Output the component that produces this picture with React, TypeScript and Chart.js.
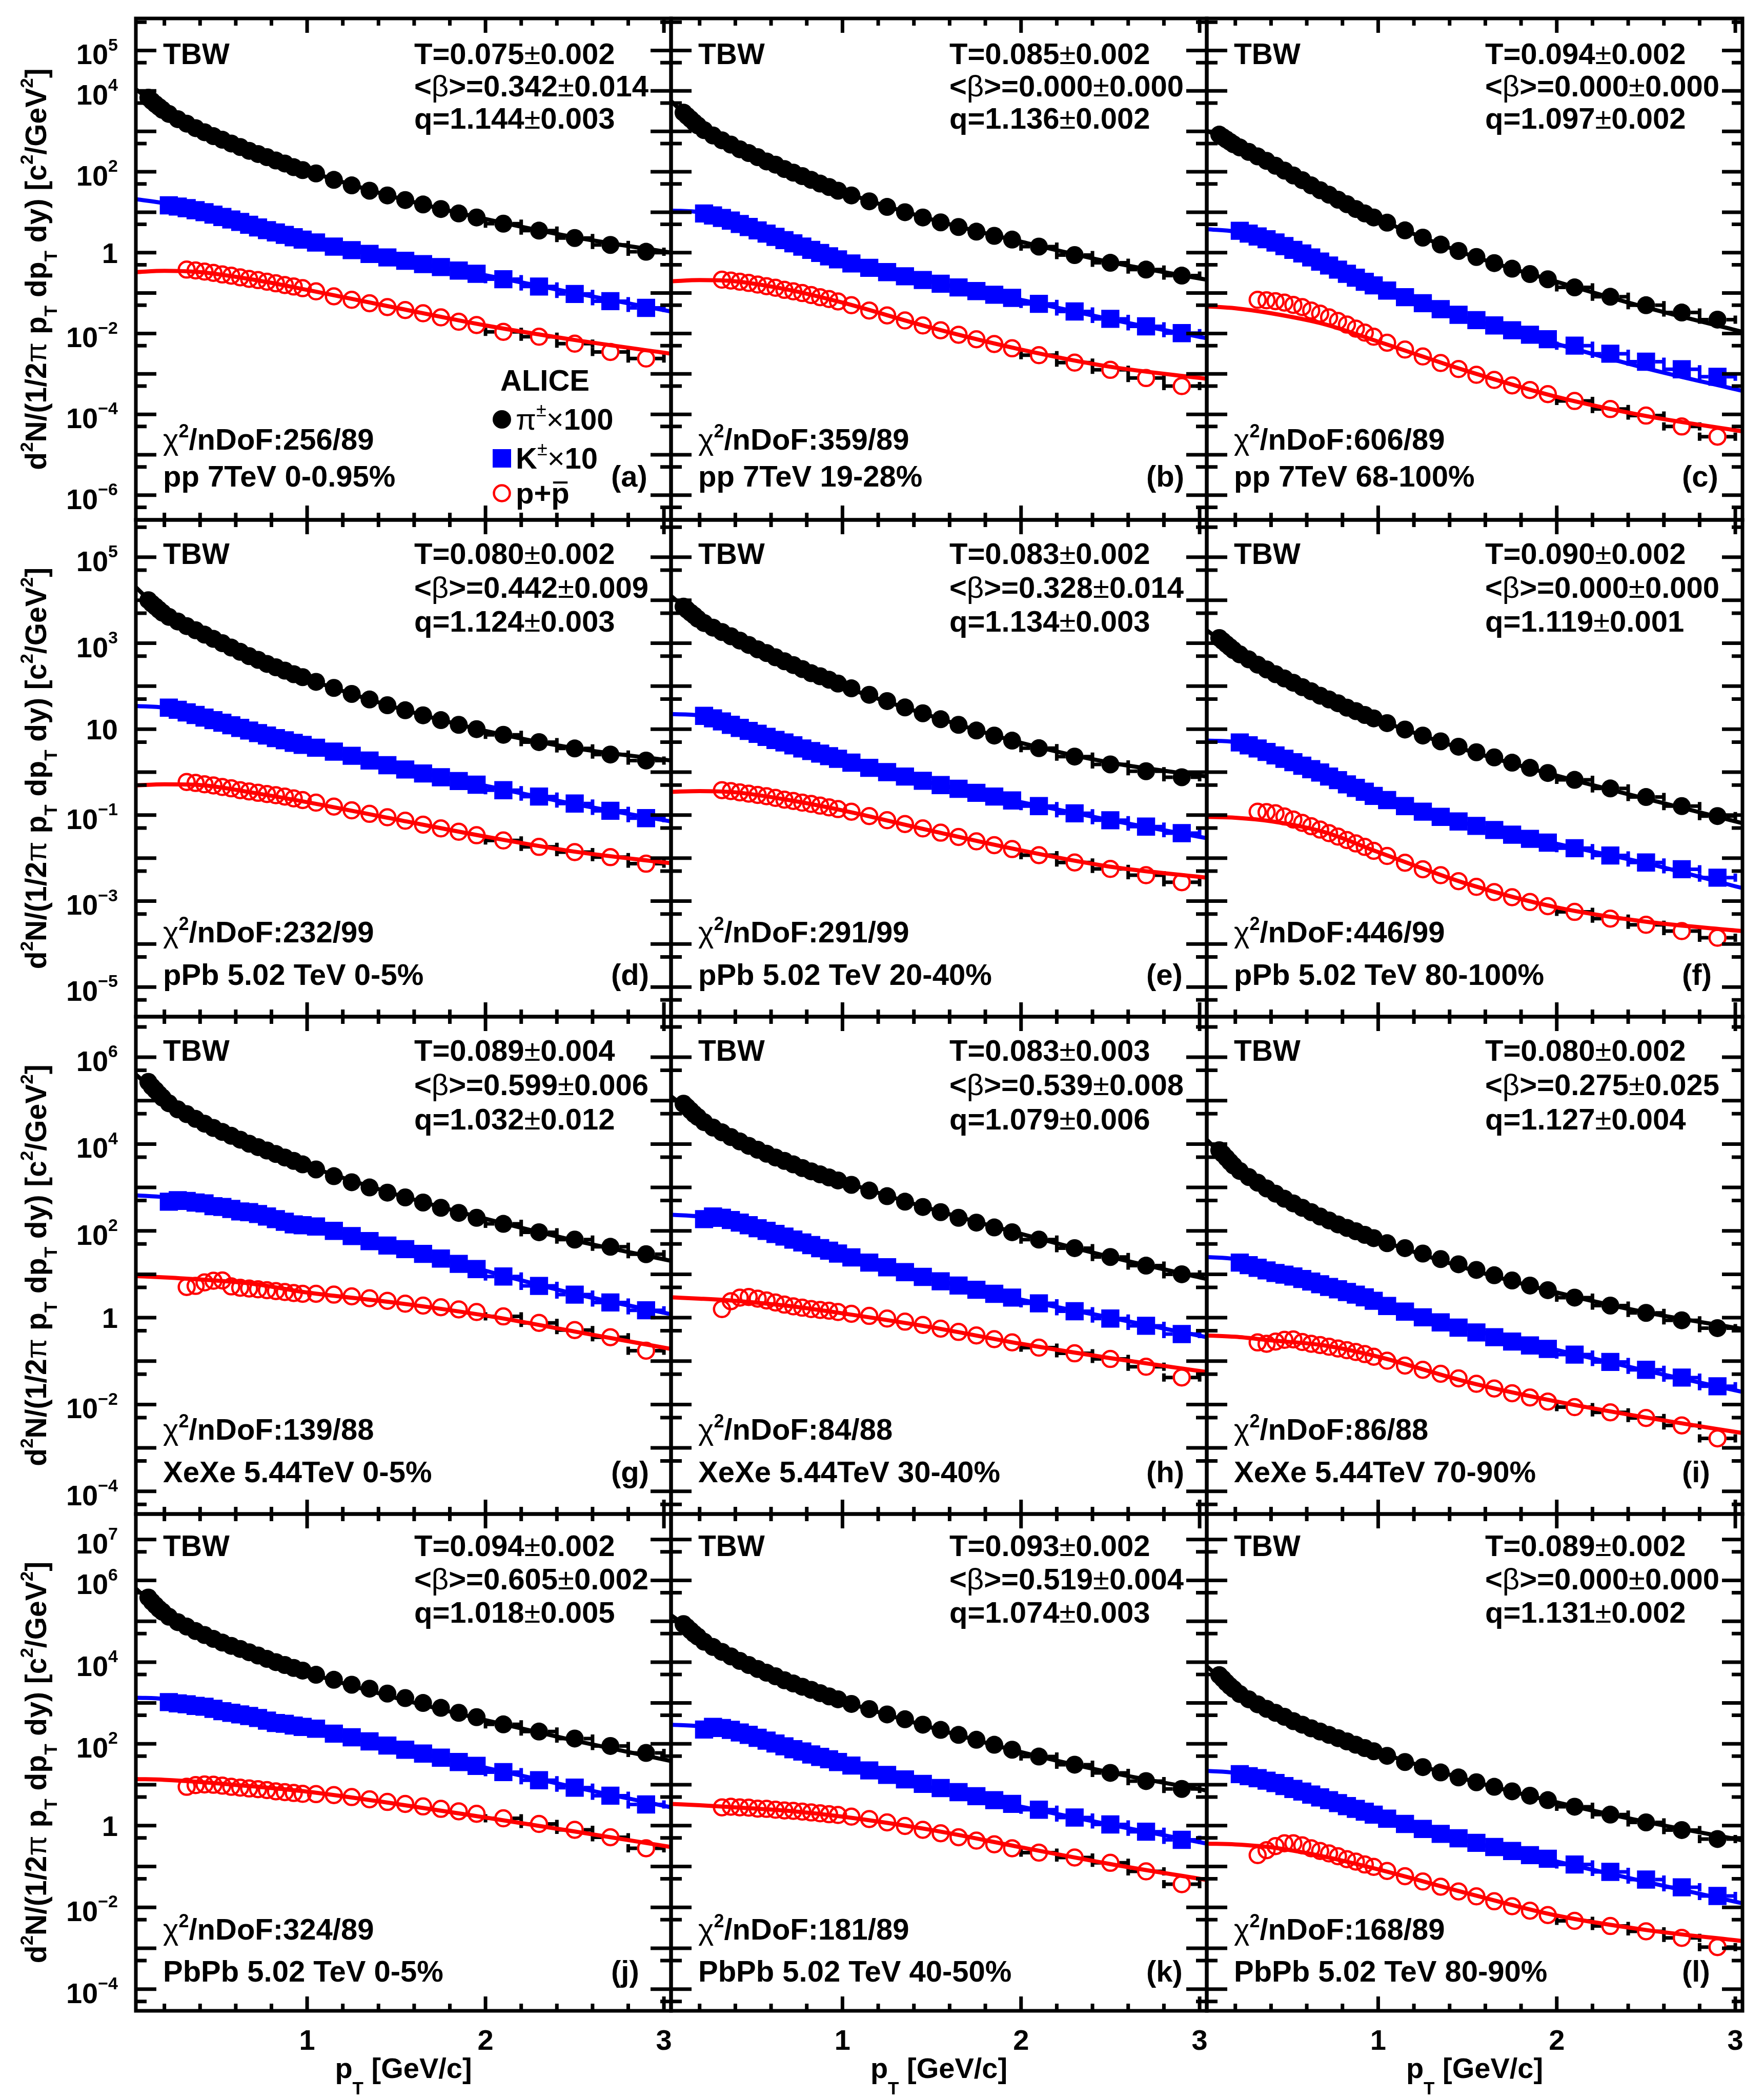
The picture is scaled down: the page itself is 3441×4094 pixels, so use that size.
import React, { useEffect, useRef } from "react";
import { Chart, registerables } from "chart.js";
Chart.register(...registerables);

const FONT = '"Liberation Sans", Arial, Helvetica, sans-serif';

// ---------- pT bins (GeV/c) ----------
const pionPT = [0.11, 0.13, 0.15, 0.17, 0.19, 0.225, 0.275, 0.325, 0.375, 0.425, 0.475, 0.525, 0.575, 0.625, 0.675, 0.725, 0.775, 0.825, 0.875, 0.925, 0.975, 1.05, 1.15, 1.25, 1.35, 1.45, 1.55, 1.65, 1.75, 1.85, 1.95, 2.1, 2.3, 2.5, 2.7, 2.9];
const pionHalfWidth = [0.01, 0.01, 0.01, 0.01, 0.01, 0.025, 0.025, 0.025, 0.025, 0.025, 0.025, 0.025, 0.025, 0.025, 0.025, 0.025, 0.025, 0.025, 0.025, 0.025, 0.025, 0.05, 0.05, 0.05, 0.05, 0.05, 0.05, 0.05, 0.05, 0.05, 0.05, 0.1, 0.1, 0.1, 0.1, 0.1];
const kaonPT = pionPT.slice(5);
const kaonHalfWidth = pionHalfWidth.slice(5);
const protonPT = pionPT.slice(7);
const protonHalfWidth = pionHalfWidth.slice(7);
const fitPT = [0.04, 0.2, 0.4, 0.7, 1.0, 1.5, 2.0, 2.5, 3.04];

// ---------- (a) pp 7 TeV 0-0.95% ----------
const pionA = [6.8e3, 5.6e3, 4.7e3, 4.0e3, 3.4e3, 2.7e3, 2.0e3, 1.55e3, 1.2e3, 9.5e2, 7.6e2, 6.2e2, 5.0e2, 4.1e2, 3.3e2, 2.75e2, 2.3e2, 1.9e2, 1.6e2, 1.3e2, 1.1e2, 91, 63, 46, 34, 26, 20, 15.5, 12, 9.3, 7.4, 5.2, 3.5, 2.3, 1.55, 1.05];
const kaonA = [14.8, 13.8, 12.6, 11.2, 10, 8.7, 7.6, 6.6, 5.75, 4.9, 4.2, 3.6, 3.16, 2.75, 2.4, 2.1, 1.78, 1.41, 1.15, 0.93, 0.76, 0.63, 0.52, 0.44, 0.36, 0.30, 0.22, 0.145, 0.095, 0.063, 0.043];
const protonA = [0.38, 0.363, 0.339, 0.316, 0.288, 0.269, 0.245, 0.224, 0.209, 0.191, 0.174, 0.158, 0.145, 0.132, 0.11, 0.083, 0.068, 0.056, 0.045, 0.038, 0.0316, 0.025, 0.0195, 0.0162, 0.011, 0.0083, 0.0056, 0.0035, 0.0024];
const fitPionA = [1.1e4, 3.2e3, 1.05e3, 3.0e2, 1.05e2, 23, 6.8, 2.4, 1.0];
const fitKaonA = [21, 16.6, 11, 4.6, 2.0, 0.69, 0.275, 0.1, 0.035];
const fitProtonA = [0.33, 0.355, 0.33, 0.214, 0.12, 0.043, 0.0158, 0.0069, 0.00316];

// ---------- (b) pp 7 TeV 19-28% ----------
const pionB = [2.9e3, 2.4e3, 2.0e3, 1.66e3, 1.4e3, 1.07e3, 7.9e2, 6.0e2, 4.7e2, 3.6e2, 2.9e2, 2.3e2, 1.8e2, 1.5e2, 1.17e2, 95, 78, 63, 51, 42, 34, 26, 18.6, 13.5, 10, 7.4, 5.6, 4.3, 3.3, 2.6, 2.1, 1.41, 0.87, 0.56, 0.38, 0.27];
const kaonB = [9.3, 8.3, 7.2, 6.2, 5.1, 4.3, 3.55, 2.95, 2.45, 2.04, 1.7, 1.41, 1.17, 0.98, 0.81, 0.68, 0.54, 0.42, 0.33, 0.26, 0.21, 0.17, 0.138, 0.112, 0.091, 0.076, 0.054, 0.035, 0.023, 0.015, 0.0102];
const protonB = [0.214, 0.204, 0.191, 0.178, 0.162, 0.148, 0.135, 0.12, 0.11, 0.1, 0.089, 0.079, 0.071, 0.062, 0.05, 0.037, 0.028, 0.021, 0.0158, 0.012, 0.0093, 0.0072, 0.0055, 0.0043, 0.0029, 0.0019, 0.00126, 0.00079, 0.0005];
const fitPionB = [5.6e3, 1.26e3, 4.2e2, 1.05e2, 32, 6.6, 1.86, 0.58, 0.214];
const fitKaonB = [11, 10, 5.75, 1.86, 0.63, 0.19, 0.068, 0.0224, 0.0076];
const fitProtonB = [0.195, 0.209, 0.195, 0.12, 0.058, 0.0138, 0.004, 0.0015, 0.00076];

// ---------- (c) pp 7 TeV 68-100% ----------
const pionC = [8.3e2, 7.2e2, 6.3e2, 5.5e2, 4.8e2, 4.0e2, 3.1e2, 2.4e2, 1.86e2, 1.41e2, 1.07e2, 81, 62, 46, 35, 27, 20.4, 15.8, 12, 9.3, 7.4, 5.5, 3.55, 2.35, 1.58, 1.1, 0.78, 0.55, 0.4, 0.295, 0.219, 0.138, 0.081, 0.05, 0.033, 0.022];
const kaonC = [3.47, 2.95, 2.51, 2.14, 1.78, 1.45, 1.17, 0.955, 0.76, 0.6, 0.48, 0.38, 0.3, 0.24, 0.19, 0.155, 0.115, 0.079, 0.056, 0.04, 0.029, 0.0214, 0.0158, 0.012, 0.0093, 0.0072, 0.005, 0.00316, 0.002, 0.0013, 0.00085];
const protonC = [0.068, 0.066, 0.063, 0.058, 0.051, 0.045, 0.037, 0.031, 0.025, 0.0204, 0.0166, 0.0132, 0.0105, 0.0083, 0.0059, 0.004, 0.0027, 0.00186, 0.00132, 0.00095, 0.00071, 0.00052, 0.0004, 0.000316, 0.000214, 0.000135, 0.000093, 0.00005, 0.000028];
const fitPionC = [1.05e3, 4.6e2, 1.58e2, 30, 6.8, 0.91, 0.19, 0.044, 0.011];
const fitKaonC = [3.8, 3.3, 1.9, 0.52, 0.138, 0.024, 0.0055, 0.00138, 0.00038];
const fitProtonC = [0.047, 0.042, 0.0316, 0.017, 0.0063, 0.00117, 0.00027, 0.000091, 0.000038];

// ---------- (d) pPb 5.02 TeV 0-5% ----------
const pionD = [1.0e4, 8.3e3, 7.1e3, 6.0e3, 5.1e3, 4.1e3, 3.2e3, 2.5e3, 2.0e3, 1.58e3, 1.26e3, 1.0e3, 7.9e2, 6.3e2, 5.0e2, 4.1e2, 3.3e2, 2.75e2, 2.3e2, 1.9e2, 1.62e2, 1.26e2, 91, 66, 49, 36, 27.5, 21, 16.2, 12.6, 10, 7.4, 5.0, 3.55, 2.57, 1.86];
const kaonD = [31.6, 28.2, 24.5, 21.4, 18.6, 16.2, 14.1, 12.3, 10.7, 9.3, 8.1, 7.1, 6.2, 5.5, 4.8, 4.3, 3.7, 3.0, 2.4, 1.86, 1.45, 1.15, 0.93, 0.76, 0.62, 0.51, 0.38, 0.27, 0.186, 0.126, 0.085];
const protonD = [0.59, 0.56, 0.52, 0.49, 0.45, 0.42, 0.38, 0.355, 0.33, 0.31, 0.29, 0.27, 0.245, 0.224, 0.195, 0.158, 0.129, 0.107, 0.089, 0.074, 0.06, 0.049, 0.041, 0.034, 0.0257, 0.0182, 0.0138, 0.0105, 0.0074];
const fitPionD = [2.0e4, 4.8e3, 1.78e3, 4.6e2, 1.48e2, 31.6, 9.1, 3.6, 1.86];
const fitKaonD = [34.7, 31.6, 20, 8.7, 4.0, 1.32, 0.48, 0.18, 0.071];
const fitProtonD = [0.49, 0.52, 0.5, 0.33, 0.2, 0.079, 0.0316, 0.0141, 0.0076];

// ---------- (e) pPb 5.02 TeV 20-40% ----------
const pionE = [7.1e3, 6.0e3, 5.1e3, 4.4e3, 3.7e3, 2.95e3, 2.3e3, 1.82e3, 1.45e3, 1.15e3, 9.1e2, 7.2e2, 5.9e2, 4.7e2, 3.8e2, 3.1e2, 2.5e2, 2.0e2, 1.7e2, 1.41e2, 1.15e2, 89, 63, 45, 32, 23.4, 17, 12.6, 9.3, 7.1, 5.4, 3.6, 2.3, 1.51, 1.05, 0.76];
const kaonE = [20.4, 17.8, 15.1, 12.6, 10.7, 9.1, 7.8, 6.6, 5.6, 4.9, 4.2, 3.55, 3.1, 2.7, 2.35, 2.04, 1.66, 1.26, 1.0, 0.79, 0.63, 0.5, 0.41, 0.33, 0.27, 0.219, 0.162, 0.11, 0.076, 0.054, 0.038];
const protonE = [0.38, 0.363, 0.339, 0.316, 0.295, 0.275, 0.251, 0.229, 0.214, 0.195, 0.182, 0.166, 0.151, 0.138, 0.12, 0.095, 0.076, 0.062, 0.049, 0.039, 0.031, 0.0245, 0.02, 0.0162, 0.0117, 0.0079, 0.0056, 0.004, 0.00275];
const fitPionE = [1.26e4, 3.5e3, 1.29e3, 3.4e2, 1.0e2, 20, 4.8, 1.66, 0.79];
const fitKaonE = [22.4, 20.9, 11.7, 4.6, 1.86, 0.56, 0.2, 0.076, 0.029];
const fitProtonE = [0.347, 0.363, 0.339, 0.224, 0.129, 0.043, 0.0151, 0.0063, 0.0035];

// ---------- (f) pPb 5.02 TeV 80-100% ----------
const pionF = [1.32e3, 1.12e3, 9.5e2, 8.1e2, 6.9e2, 5.5e2, 4.2e2, 3.16e2, 2.45e2, 1.9e2, 1.51e2, 1.2e2, 95, 76, 60, 49, 40, 31.6, 26.3, 21.4, 17.8, 13.8, 9.8, 7.1, 5.2, 3.9, 2.9, 2.2, 1.66, 1.26, 0.955, 0.66, 0.417, 0.263, 0.162, 0.095];
const kaonF = [4.9, 4.2, 3.55, 2.95, 2.45, 2.04, 1.7, 1.41, 1.17, 0.98, 0.79, 0.65, 0.52, 0.43, 0.35, 0.28, 0.224, 0.162, 0.12, 0.091, 0.071, 0.056, 0.045, 0.035, 0.028, 0.0229, 0.017, 0.0115, 0.0079, 0.0055, 0.0035];
const protonF = [0.12, 0.117, 0.11, 0.093, 0.079, 0.066, 0.055, 0.046, 0.038, 0.0316, 0.0263, 0.0219, 0.0182, 0.0148, 0.0112, 0.0078, 0.0055, 0.004, 0.0029, 0.00214, 0.00162, 0.00123, 0.00095, 0.00076, 0.00056, 0.00039, 0.00028, 0.0002, 0.00014];
const fitPionF = [2.0e3, 6.6e2, 2.2e2, 55, 16.6, 3.2, 0.83, 0.24, 0.065];
const fitKaonF = [5.4, 5.0, 2.75, 0.91, 0.27, 0.063, 0.0214, 0.0076, 0.002];
const fitProtonF = [0.091, 0.087, 0.072, 0.04, 0.0138, 0.0025, 0.00071, 0.00033, 0.0002];

// ---------- (g) XeXe 5.44 TeV 0-5% ----------
const pionG = [2.7e5, 2.1e5, 1.74e5, 1.41e5, 1.17e5, 8.7e4, 6.3e4, 4.9e4, 3.8e4, 2.95e4, 2.35e4, 1.9e4, 1.55e4, 1.26e4, 1.02e4, 8.5e3, 7.1e3, 5.9e3, 4.9e3, 4.1e3, 3.4e3, 2.6e3, 1.82e3, 1.32e3, 1.0e3, 7.6e2, 5.9e2, 4.5e2, 3.4e2, 2.6e2, 2.0e2, 1.45e2, 93, 63, 43, 29];
const kaonG = [4.7e2, 5.1e2, 4.9e2, 4.5e2, 4.3e2, 3.7e2, 3.55e2, 3.2e2, 2.8e2, 2.7e2, 2.45e2, 2.14e2, 1.86e2, 1.62e2, 1.41e2, 1.35e2, 1.26e2, 1.0e2, 76, 58, 46, 38, 29.5, 23, 17.4, 13.2, 8.9, 5.4, 3.4, 2.24, 1.48];
const protonG = [5.1, 5.4, 6.5, 7.1, 7.2, 5.25, 4.9, 4.7, 4.5, 4.3, 4.1, 3.9, 3.7, 3.55, 3.55, 3.4, 3.1, 2.8, 2.45, 2.1, 1.9, 1.74, 1.55, 1.35, 1.07, 0.76, 0.52, 0.355, 0.174];
const fitPionG = [4.0e5, 1.07e5, 3.3e4, 9.3e3, 3.16e3, 6.9e2, 1.9e2, 60, 20.4];
const fitKaonG = [6.6e2, 6.0e2, 4.8e2, 2.6e2, 1.32e2, 42, 12, 3.55, 1.2];
const fitProtonG = [9.1, 8.5, 7.6, 6.0, 3.8, 2.2, 1.12, 0.48, 0.19];

// ---------- (h) XeXe 5.44 TeV 30-40% ----------
const pionH = [8.5e4, 7.1e4, 5.9e4, 4.9e4, 4.2e4, 3.2e4, 2.4e4, 1.86e4, 1.45e4, 1.15e4, 9.1e3, 7.4e3, 6.0e3, 4.9e3, 4.1e3, 3.4e3, 2.8e3, 2.35e3, 2.0e3, 1.7e3, 1.45e3, 1.15e3, 8.5e2, 6.3e2, 4.7e2, 3.55e2, 2.7e2, 2.0e2, 1.55e2, 1.2e2, 93, 63, 40, 25, 15.8, 10];
const kaonH = [1.86e2, 2.14e2, 2.0e2, 1.78e2, 1.55e2, 1.35e2, 1.15e2, 1.0e2, 85, 74, 63, 54, 47, 40, 35, 30, 24.5, 18.6, 14.5, 11.2, 8.7, 6.9, 5.5, 4.4, 3.55, 2.9, 2.14, 1.41, 0.955, 0.65, 0.42];
const protonH = [1.58, 2.4, 2.9, 3.0, 2.75, 2.5, 2.24, 2.0, 1.82, 1.7, 1.58, 1.51, 1.45, 1.35, 1.23, 1.1, 0.955, 0.81, 0.68, 0.56, 0.47, 0.39, 0.32, 0.27, 0.204, 0.151, 0.112, 0.074, 0.042];
const fitPionH = [1.26e5, 4.0e4, 1.26e4, 3.6e3, 1.38e3, 3.16e2, 85, 25, 7.8];
const fitKaonH = [2.35e2, 2.14e2, 1.66e2, 69, 28, 7.8, 2.6, 1.0, 0.355];
const fitProtonH = [2.95, 2.75, 2.45, 1.86, 1.26, 0.6, 0.25, 0.117, 0.056];

// ---------- (i) XeXe 5.44 TeV 70-90% ----------
const pionI = [7.2e3, 5.9e3, 4.8e3, 3.9e3, 3.2e3, 2.4e3, 1.74e3, 1.29e3, 9.5e2, 7.2e2, 5.5e2, 4.3e2, 3.4e2, 2.7e2, 2.14e2, 1.74e2, 1.41e2, 1.17e2, 98, 81, 68, 52, 40, 30, 22.4, 17, 12.6, 9.5, 7.2, 5.5, 4.3, 2.9, 1.9, 1.29, 0.87, 0.575];
const kaonI = [18.6, 16.2, 14.1, 12.3, 10.7, 9.8, 8.9, 7.8, 6.8, 5.9, 5.1, 4.5, 3.9, 3.4, 2.95, 2.45, 1.86, 1.38, 1.02, 0.78, 0.59, 0.457, 0.355, 0.282, 0.229, 0.191, 0.141, 0.0955, 0.063, 0.0417, 0.0263];
const protonI = [0.269, 0.251, 0.282, 0.309, 0.316, 0.275, 0.251, 0.234, 0.214, 0.195, 0.178, 0.162, 0.145, 0.126, 0.102, 0.079, 0.063, 0.051, 0.04, 0.030, 0.0234, 0.0182, 0.0145, 0.0117, 0.0087, 0.0066, 0.0049, 0.0033, 0.00166];
const fitPionI = [1.26e4, 2.8e3, 8.5e2, 1.95e2, 63, 13.5, 3.8, 1.32, 0.55];
const fitKaonI = [25, 22.4, 14.5, 5.6, 2.2, 0.56, 0.18, 0.06, 0.0195];
const fitProtonI = [0.39, 0.363, 0.3, 0.229, 0.126, 0.033, 0.0117, 0.005, 0.0022];

// ---------- (j) PbPb 5.02 TeV 0-5% ----------
const pionJ = [3.8e5, 3.0e5, 2.45e5, 2.0e5, 1.7e5, 1.29e5, 9.5e4, 7.4e4, 5.75e4, 4.6e4, 3.7e4, 3.0e4, 2.5e4, 2.1e4, 1.74e4, 1.45e4, 1.2e4, 1.0e4, 8.5e3, 7.2e3, 6.2e3, 4.9e3, 3.7e3, 2.8e3, 2.24e3, 1.7e3, 1.32e3, 1.0e3, 7.6e2, 5.75e2, 4.5e2, 3.0e2, 2.0e2, 1.35e2, 89, 60];
const kaonJ = [1.05e3, 9.8e2, 9.3e2, 8.5e2, 8.1e2, 7.2e2, 6.3e2, 5.75e2, 5.25e2, 4.8e2, 4.3e2, 3.7e2, 3.24e2, 3.1e2, 2.8e2, 2.6e2, 2.35e2, 1.78e2, 1.45e2, 1.15e2, 91, 72, 58, 46, 36, 29, 20.4, 12.9, 8.5, 5.4, 3.3];
const protonJ = [8.9, 9.8, 10.2, 10, 9.5, 8.9, 8.5, 8.1, 7.8, 7.4, 6.9, 6.6, 6.3, 6.0, 5.9, 5.6, 5.0, 4.4, 3.8, 3.4, 2.95, 2.57, 2.24, 1.95, 1.51, 1.1, 0.79, 0.52, 0.28];
const fitPionJ = [6.3e5, 1.5e5, 5.0e4, 1.58e4, 5.6e3, 1.32e3, 3.8e2, 1.2e2, 38];
const fitKaonJ = [1.35e3, 1.25e3, 8.7e2, 4.5e2, 2.45e2, 79, 26, 8.7, 2.8];
const fitProtonJ = [13.8, 13.2, 11.7, 9.1, 6.8, 3.4, 1.58, 0.72, 0.3];

// ---------- (k) PbPb 5.02 TeV 40-50% ----------
const pionK = [8.5e4, 7.1e4, 5.9e4, 4.9e4, 4.2e4, 3.16e4, 2.35e4, 1.78e4, 1.38e4, 1.07e4, 8.5e3, 6.8e3, 5.5e3, 4.5e3, 3.6e3, 3.0e3, 2.5e3, 2.1e3, 1.74e3, 1.45e3, 1.23e3, 9.5e2, 7.1e2, 5.25e2, 4.0e2, 2.95e2, 2.2e2, 1.66e2, 1.26e2, 95, 72, 49, 31, 19.5, 12.3, 7.9];
const kaonK = [2.24e2, 2.6e2, 2.45e2, 2.2e2, 1.9e2, 1.66e2, 1.41e2, 1.2e2, 1.02e2, 87, 74, 65, 55, 48, 42, 36, 29.5, 22.4, 17.4, 13.5, 10.5, 8.3, 6.6, 5.25, 4.2, 3.4, 2.45, 1.58, 1.07, 0.71, 0.45];
const protonK = [2.8, 2.9, 2.8, 2.75, 2.6, 2.57, 2.45, 2.35, 2.3, 2.2, 2.1, 2.0, 1.9, 1.82, 1.66, 1.45, 1.2, 0.98, 0.79, 0.65, 0.52, 0.43, 0.35, 0.28, 0.219, 0.166, 0.123, 0.076, 0.037];
const fitPionK = [1.41e5, 4.5e4, 1.26e4, 3.3e3, 1.12e3, 2.5e2, 63, 20, 7.2];
const fitKaonK = [2.95e2, 2.7e2, 2.0e2, 79, 31.6, 8.5, 2.9, 1.05, 0.363];
const fitProtonK = [3.4, 3.16, 2.8, 2.3, 1.66, 0.78, 0.295, 0.115, 0.047];

// ---------- (l) PbPb 5.02 TeV 80-90% ----------
const pionL = [4.8e3, 3.9e3, 3.16e3, 2.6e3, 2.2e3, 1.66e3, 1.23e3, 9.3e2, 7.2e2, 5.75e2, 4.6e2, 3.6e2, 2.95e2, 2.4e2, 2.0e2, 1.66e2, 1.38e2, 1.15e2, 95, 79, 66, 51, 36, 27, 20, 15.1, 11.5, 8.9, 6.9, 5.4, 4.2, 2.9, 1.86, 1.2, 0.78, 0.47];
const kaonL = [18.2, 16.2, 14.5, 12.6, 11, 9.3, 7.9, 6.8, 5.75, 4.9, 4.2, 3.55, 3.0, 2.57, 2.19, 1.86, 1.48, 1.1, 0.83, 0.63, 0.49, 0.38, 0.3, 0.24, 0.19, 0.155, 0.112, 0.074, 0.048, 0.031, 0.019];
const protonL = [0.19, 0.251, 0.316, 0.37, 0.37, 0.33, 0.28, 0.24, 0.209, 0.178, 0.151, 0.132, 0.112, 0.098, 0.078, 0.058, 0.043, 0.032, 0.0245, 0.0186, 0.0141, 0.0107, 0.0083, 0.0065, 0.0047, 0.0035, 0.0026, 0.0018, 0.00107];
const fitPionL = [7.9e3, 2.0e3, 6.8e2, 1.82e2, 63, 13.2, 3.7, 1.23, 0.437];
const fitKaonL = [21.9, 19.5, 12, 4.6, 1.7, 0.417, 0.132, 0.042, 0.0126];
const fitProtonL = [0.363, 0.347, 0.295, 0.174, 0.085, 0.022, 0.0063, 0.0028, 0.0015];

const pionData = [pionA, pionB, pionC, pionD, pionE, pionF, pionG, pionH, pionI, pionJ, pionK, pionL];
const kaonData = [kaonA, kaonB, kaonC, kaonD, kaonE, kaonF, kaonG, kaonH, kaonI, kaonJ, kaonK, kaonL];
const protonData = [protonA, protonB, protonC, protonD, protonE, protonF, protonG, protonH, protonI, protonJ, protonK, protonL];
const fitPionData = [fitPionA, fitPionB, fitPionC, fitPionD, fitPionE, fitPionF, fitPionG, fitPionH, fitPionI, fitPionJ, fitPionK, fitPionL];
const fitKaonData = [fitKaonA, fitKaonB, fitKaonC, fitKaonD, fitKaonE, fitKaonF, fitKaonG, fitKaonH, fitKaonI, fitKaonJ, fitKaonK, fitKaonL];
const fitProtonData = [fitProtonA, fitProtonB, fitProtonC, fitProtonD, fitProtonE, fitProtonF, fitProtonG, fitProtonH, fitProtonI, fitProtonJ, fitProtonK, fitProtonL];

// ---------- panel texts ----------
const panelTags = ["(a)", "(b)", "(c)", "(d)", "(e)", "(f)", "(g)", "(h)", "(i)", "(j)", "(k)", "(l)"];
const systemLabels = ["pp 7TeV 0-0.95%", "pp 7TeV 19-28%", "pp 7TeV 68-100%", "pPb 5.02 TeV 0-5%", "pPb 5.02 TeV 20-40%", "pPb 5.02 TeV 80-100%", "XeXe 5.44TeV 0-5%", "XeXe 5.44TeV 30-40%", "XeXe 5.44TeV 70-90%", "PbPb 5.02 TeV 0-5%", "PbPb 5.02 TeV 40-50%", "PbPb 5.02 TeV 80-90%"];
const chi2Labels = ["256/89", "359/89", "606/89", "232/99", "291/99", "446/99", "139/88", "84/88", "86/88", "324/89", "181/89", "168/89"];
const tempLabels = ["0.075±0.002", "0.085±0.002", "0.094±0.002", "0.080±0.002", "0.083±0.002", "0.090±0.002", "0.089±0.004", "0.083±0.003", "0.080±0.002", "0.094±0.002", "0.093±0.002", "0.089±0.002"];
const betaLabels = ["0.342±0.014", "0.000±0.000", "0.000±0.000", "0.442±0.009", "0.328±0.014", "0.000±0.000", "0.599±0.006", "0.539±0.008", "0.275±0.025", "0.605±0.002", "0.519±0.004", "0.000±0.000"];
const qLabels = ["1.144±0.003", "1.136±0.002", "1.097±0.002", "1.124±0.003", "1.134±0.003", "1.119±0.001", "1.032±0.012", "1.079±0.006", "1.127±0.004", "1.018±0.005", "1.074±0.003", "1.131±0.002"];

// ---------- axes ----------
const xRange = [0.04, 3.04];
const yRangeByRow = [[2.45e-7, 6.2e5], [2.04e-6, 7.4e5], [3.0e-5, 8.6e6], [2.95e-5, 4.2e7]];
const yLabelExponentsByRow = [[5, 4, 2, 0, -2, -4, -6], [5, 3, 1, -1, -3, -5], [6, 4, 2, 0, -2, -4], [7, 6, 4, 2, 0, -2, -4]];
const xLabelValues = [1, 2, 3];

// ---------- layout (page pixels) ----------
const PAGE_W = 3441;
const PAGE_H = 4094;
const colLeft = [265, 1309, 2354];
const colWidth = [1044, 1045, 1045];
const rowTop = [36, 1014, 1983, 2953];
const rowHeight = [978, 969, 970, 969];
const topTextOffset = [89, 86, 86, 82];
const topTextGap = [63, 66, 67, 65];
const chiOffset = [137, 145, 145, 139];
const sysOffset = [65, 62, 62, 57];
const TEXT = 58;

const LIGHT = "±×πχβ";
type Seg = { t: string; sup?: boolean; sub?: boolean; over?: boolean; light?: boolean };

function parseRich(s: string): Seg[] {
  const out: Seg[] = [];
  const push = (text: string, mods: any) => {
    let run = "";
    let runLight = false;
    for (const ch of text) {
      const l = LIGHT.includes(ch);
      if (run && l !== runLight) {
        out.push({ t: run, light: runLight, ...mods });
        run = "";
      }
      run += ch;
      runLight = l;
    }
    if (run) out.push({ t: run, light: runLight, ...mods });
  };
  let i = 0;
  let buf = "";
  while (i < s.length) {
    if ((s[i] === "^" || s[i] === "_") && s[i + 1] === "{") {
      if (buf) { push(buf, {}); buf = ""; }
      const j = s.indexOf("}", i);
      push(s.slice(i + 2, j), s[i] === "^" ? { sup: true } : { sub: true });
      i = j + 1;
    } else if (s.startsWith("#bar{", i)) {
      if (buf) { push(buf, {}); buf = ""; }
      const j = s.indexOf("}", i);
      push(s.slice(i + 5, j), { over: true });
      i = j + 1;
    } else {
      buf += s[i];
      i++;
    }
  }
  if (buf) push(buf, {});
  return out;
}

function drawRich(ctx: CanvasRenderingContext2D, s: string, x: number, y: number, size: number, align: string = "left", opts: any = {}) {
  const segs = parseRich(s);
  const supScale = opts.supScale ?? 0.62;
  const supRise = opts.supRise ?? 0.45;
  const subDrop = opts.subDrop ?? 0.3;
  const fontFor = (g: Seg) => `${g.light ? "normal" : "bold"} ${Math.round(g.sup || g.sub ? size * supScale : size)}px ${FONT}`;
  const widths: number[] = [];
  let total = 0;
  for (const g of segs) {
    ctx.font = fontFor(g);
    const w = ctx.measureText(g.t).width;
    widths.push(w);
    total += w;
  }
  let cx = align === "left" ? x : align === "right" ? x - total : x - total / 2;
  ctx.textAlign = "left";
  ctx.textBaseline = "alphabetic";
  segs.forEach((g, k) => {
    ctx.font = fontFor(g);
    const dy = g.sup ? -size * supRise : g.sub ? size * subDrop : 0;
    ctx.fillText(g.t, cx, y + dy);
    if (g.over) ctx.fillRect(cx + widths[k] * 0.1, y - size * 0.74, widths[k] * 0.8, size * 0.07);
    cx += widths[k];
  });
  return total;
}

function makePlugin(idx: number) {
  const r = Math.floor(idx / 3);
  const c = idx % 3;
  return {
    id: "rootStyle" + idx,
    beforeDatasetsDraw(chart: any) {
      const ctx: CanvasRenderingContext2D = chart.ctx;
      const xs = chart.scales.x;
      const { left, right, top, bottom } = chart.chartArea;
      ctx.save();
      ctx.beginPath();
      ctx.rect(left, top, right - left, bottom - top);
      ctx.clip();
      chart.data.datasets.forEach((ds: any, i: number) => {
        if (!ds.xErr) return;
        const meta = chart.getDatasetMeta(i);
        ctx.strokeStyle = ds.errColor;
        ctx.lineWidth = 7;
        ctx.beginPath();
        meta.data.forEach((el: any, j: number) => {
          const px = el.x;
          const py = el.y;
          const xv = ds.data[j].x;
          const hw = ds.xErr[j];
          const lo = xs.getPixelForValue(xv - hw);
          const hi = xs.getPixelForValue(xv + hw);
          const m = ds.markerHalf;
          if (hi - px > m + 2) {
            ctx.moveTo(px + m, py); ctx.lineTo(hi, py);
            ctx.moveTo(lo, py); ctx.lineTo(px - m, py);
            ctx.moveTo(hi, py - 8); ctx.lineTo(hi, py + 8);
            ctx.moveTo(lo, py - 8); ctx.lineTo(lo, py + 8);
          }
        });
        ctx.stroke();
      });
      ctx.restore();
    },
    afterDatasetsDraw(chart: any) {
      const ctx: CanvasRenderingContext2D = chart.ctx;
      const xs = chart.scales.x;
      const ys = chart.scales.y;
      const { left, right, top, bottom } = chart.chartArea;
      ctx.save();
      ctx.strokeStyle = "#000";
      ctx.fillStyle = "#000";
      ctx.lineCap = "butt";
      ctx.lineWidth = 7;
      // y ticks
      ctx.beginPath();
      for (let e = -8; e <= 8; e++) {
        const marks: [number, number][] = [[1, 40], [5, 21]];
        for (const [mult, len] of marks) {
          const v = mult * Math.pow(10, e);
          if (v <= ys.min || v >= ys.max) continue;
          const py = ys.getPixelForValue(v);
          ctx.moveTo(left, py); ctx.lineTo(left + len, py);
          ctx.moveTo(right - len, py); ctx.lineTo(right, py);
        }
      }
      // x ticks
      for (let k = 1; k <= 15; k++) {
        const v = k * 0.2;
        const len = k % 5 === 0 ? 28 : 14;
        const px = xs.getPixelForValue(v);
        ctx.moveTo(px, bottom); ctx.lineTo(px, bottom - len);
        ctx.moveTo(px, top); ctx.lineTo(px, top + len);
      }
      ctx.stroke();
      ctx.strokeRect(left, top, right - left, bottom - top);

      // y labels + title (left column)
      if (c === 0) {
        for (const e of yLabelExponentsByRow[r]) {
          const py = ys.getPixelForValue(Math.pow(10, e));
          if (e === 0 || e === 1) {
            drawRich(ctx, e === 0 ? "1" : "10", left - 35, py + 20, 56, "right");
          } else {
            drawRich(ctx, `10^{${e < 0 ? "−" : ""}${Math.abs(e)}}`, left - 35, py + 27, 56, "right", { supScale: 0.6, supRise: 0.48 });
          }
        }
        ctx.save();
        ctx.translate(left - 175, (top + bottom) / 2);
        ctx.rotate(-Math.PI / 2);
        drawRich(ctx, "d^{2}N/(1/2π p_{T} dp_{T} dy) [c^{2}/GeV^{2}]", 0, 0, 57, "center", { subDrop: 0.36, supRise: 0.45 });
        ctx.restore();
      }
      // x labels + title (bottom row)
      if (r === 3) {
        for (const v of xLabelValues) {
          drawRich(ctx, String(v), xs.getPixelForValue(v), bottom + 76, 56, "center");
        }
        drawRich(ctx, "p_{T} [GeV/c]", (left + right) / 2, bottom + 131, 56, "center", { subDrop: 0.58 });
      }

      // panel texts
      const t0 = top + topTextOffset[r];
      const g = topTextGap[r];
      drawRich(ctx, "TBW", left + 53, t0, TEXT - 1, "left");
      const px = left + 543;
      drawRich(ctx, "T=" + tempLabels[idx], px, t0, TEXT, "left");
      drawRich(ctx, "<β>=" + betaLabels[idx], px, t0 + g, TEXT, "left");
      drawRich(ctx, "q=" + qLabels[idx], px, t0 + 2 * g, TEXT, "left");
      drawRich(ctx, "χ^{2}/nDoF:" + chi2Labels[idx], left + 53, bottom - chiOffset[r], TEXT, "left", { supRise: 0.42 });
      drawRich(ctx, systemLabels[idx], left + 53, bottom - sysOffset[r], TEXT, "left");
      drawRich(ctx, panelTags[idx], left + 927, bottom - sysOffset[r], TEXT, "left");

      // legend (panel a)
      if (idx === 0) {
        drawRich(ctx, "ALICE", left + 711, top + 726, TEXT, "left");
        const mx = left + 714;
        ctx.fillStyle = "#000";
        ctx.beginPath(); ctx.arc(mx, top + 782, 18, 0, Math.PI * 2); ctx.fill();
        drawRich(ctx, "π^{±}×100", left + 741, top + 802, TEXT, "left");
        ctx.fillStyle = "#0000ff";
        ctx.fillRect(mx - 18, top + 858 - 18, 36, 36);
        ctx.fillStyle = "#000";
        drawRich(ctx, "K^{±}×10", left + 741, top + 878, TEXT, "left");
        ctx.strokeStyle = "#ff0000";
        ctx.lineWidth = 4.5;
        ctx.beginPath(); ctx.arc(mx, top + 926, 15.5, 0, Math.PI * 2); ctx.stroke();
        ctx.fillStyle = "#000";
        drawRich(ctx, "p+#bar{p}", left + 741, top + 946, TEXT, "left");
      }
      ctx.restore();
    },
  };
}

const toXY = (xs: number[], ys: number[]) => xs.map((x, i) => ({ x, y: ys[i] }));

function Panel({ idx }: { idx: number }) {
  const ref = useRef<HTMLCanvasElement | null>(null);
  const r = Math.floor(idx / 3);
  const c = idx % 3;
  const padL = c === 0 ? colLeft[0] : 40;
  const padR = 40;
  const padT = r === 0 ? rowTop[0] : 40;
  const padB = r === 3 ? PAGE_H - (rowTop[3] + rowHeight[3]) : 40;
  const w = padL + colWidth[c] + padR;
  const h = padT + rowHeight[r] + padB;
  const cLeft = colLeft[c] - padL;
  const cTop = rowTop[r] - padT;

  useEffect(() => {
    if (!ref.current) return;
    const fitLine = (data: number[], color: string) => ({
      data: toXY(fitPT, data),
      borderColor: color,
      borderWidth: 8,
      pointRadius: 0,
      fill: false,
      tension: 0.4,
      cubicInterpolationMode: "monotone",
    });
    const chart = new Chart(ref.current, {
      type: "line",
      data: {
        datasets: [
          fitLine(fitPionData[idx], "#000000"),
          fitLine(fitKaonData[idx], "#0000ff"),
          fitLine(fitProtonData[idx], "#ff0000"),
          {
            data: toXY(pionPT, pionData[idx]),
            showLine: false,
            pointStyle: "circle",
            pointRadius: 17.5,
            pointBackgroundColor: "#000000",
            pointBorderWidth: 0,
            xErr: pionHalfWidth,
            errColor: "#000000",
            markerHalf: 17.5,
          } as any,
          {
            data: toXY(kaonPT, kaonData[idx]),
            showLine: false,
            pointStyle: "rect",
            pointRadius: 25,
            pointBackgroundColor: "#0000ff",
            pointBorderWidth: 0,
            xErr: kaonHalfWidth,
            errColor: "#0000ff",
            markerHalf: 17.5,
          } as any,
          {
            data: toXY(protonPT, protonData[idx]),
            showLine: false,
            pointStyle: "circle",
            pointRadius: 15.5,
            pointBackgroundColor: "rgba(0,0,0,0)",
            pointBorderColor: "#ff0000",
            pointBorderWidth: 4.5,
            xErr: protonHalfWidth,
            errColor: "#000000",
            markerHalf: 17.5,
          } as any,
        ],
      },
      options: {
        responsive: false,
        maintainAspectRatio: false,
        animation: false,
        devicePixelRatio: 1,
        events: [],
        layout: { padding: { left: padL, right: padR, top: padT, bottom: padB } },
        plugins: { legend: { display: false }, tooltip: { enabled: false }, title: { display: false } },
        scales: {
          x: { type: "linear", min: xRange[0], max: xRange[1], display: false },
          y: { type: "logarithmic", min: yRangeByRow[r][0], max: yRangeByRow[r][1], display: false },
        },
      },
      plugins: [makePlugin(idx)],
    } as any);
    return () => chart.destroy();
  }, [idx]);

  return (
    <canvas
      ref={ref}
      width={w}
      height={h}
      style={{ position: "absolute", left: cLeft, top: cTop, width: w, height: h }}
    />
  );
}

export default function App() {
  const idxs = Array.from({ length: 12 }, (_, i) => i);
  return (
    <div style={{ position: "absolute", left: 0, top: 0, width: PAGE_W, height: PAGE_H, background: "#ffffff", overflow: "hidden" }}>
      {idxs.map((i) => (
        <Panel key={i} idx={i} />
      ))}
    </div>
  );
}
